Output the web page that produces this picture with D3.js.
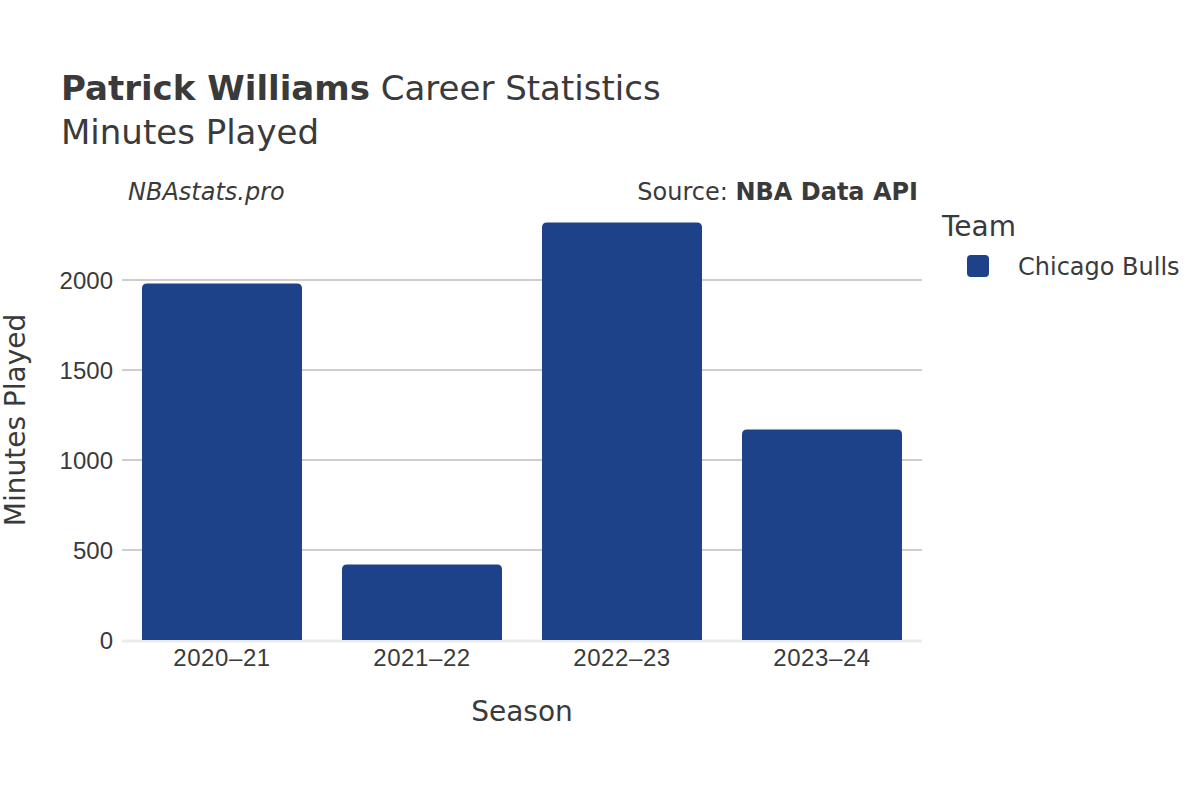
<!DOCTYPE html>
<html><head><meta charset="utf-8">
<script src="https://cdn.jsdelivr.net/npm/d3@7"></script>
<style>body{margin:0;background:#fff}svg{font-family:"DejaVu Sans",sans-serif}</style>
</head><body><svg id="c" width="1200" height="800"></svg>
<script>
const seasons = ["2020–21","2021–22","2022–23","2023–24"];
const minutes = [1981, 420, 2320, 1170];
const yTicks = [0, 500, 1000, 1500, 2000];
const team = "Chicago Bulls";
const barColor = "#1d428a";
const txt = "#3a3a3a";

const svg = d3.select("#c");
const L = 122, R = 922, T = 210, B = 640;
const x = d3.scaleBand().domain(seasons).range([L, R]).paddingInner(0.2).paddingOuter(0.1);
const y = d3.scaleLinear().domain([0, 2000]).range([B, 280]);

// gridlines
svg.append("g").selectAll("line").data(yTicks.filter(d=>d>0)).join("line")
  .attr("x1", L).attr("x2", R).attr("y1", d=>y(d)).attr("y2", d=>y(d))
  .attr("stroke", "#bdbdbd").attr("stroke-width", 1.5);
// zero line
svg.append("line").attr("x1", L).attr("x2", R).attr("y1", y(0)+1).attr("y2", y(0)+1)
  .attr("stroke", "#ebebeb").attr("stroke-width", 3);

// bars with rounded top
const r = 5;
svg.append("g").selectAll("path").data(seasons).join("path")
  .attr("fill", barColor)
  .attr("d", (d,i)=>{
    const x0 = x(d), w = x.bandwidth(), y0 = y(minutes[i]), y1 = y(0);
    return `M${x0},${y1}V${y0+r}Q${x0},${y0} ${x0+r},${y0}H${x0+w-r}Q${x0+w},${y0} ${x0+w},${y0+r}V${y1}Z`;
  });

// axes
const yAxis = d3.axisLeft(y).tickValues(yTicks).tickSize(0).tickPadding(0).tickFormat(d3.format("d"));
const gy = svg.append("g").attr("transform", `translate(${L-9},0)`).call(yAxis);
gy.select(".domain").remove();
gy.selectAll("text").attr("fill", txt).style("font-size", "24px").attr("dy", "0.36em");

const xAxis = d3.axisBottom(x).tickSize(0).tickPadding(0);
const gx = svg.append("g").attr("transform", `translate(0,${B+9})`).call(xAxis);
gx.select(".domain").remove();
gx.selectAll("text").attr("fill", txt).style("font-size", "24px").attr("dy", "0.71em").attr("letter-spacing", "0.6px");

// axis titles
svg.append("text").attr("x", (L+R)/2).attr("y", 721).attr("text-anchor", "middle")
  .attr("fill", txt).style("font-size", "28px").text("Season");
svg.append("text").attr("transform", `translate(25,420) rotate(-90)`).attr("text-anchor", "middle")
  .attr("fill", txt).style("font-size", "28px").text("Minutes Played");

// title
const t = svg.append("text").attr("x", 61).attr("y", 100).attr("fill", txt).style("font-size", "34px");
t.append("tspan").attr("font-weight", "bold").text("Patrick Williams");
t.append("tspan").text(" Career Statistics");
svg.append("text").attr("x", 61).attr("y", 144).attr("fill", txt).style("font-size", "34px").text("Minutes Played");

// annotations
svg.append("text").attr("x", 128).attr("y", 200).attr("fill", txt).style("font-size", "24px")
  .attr("font-style", "italic").text("NBAstats.pro");
const s = svg.append("text").attr("x", 918).attr("y", 200).attr("text-anchor", "end").attr("fill", txt).style("font-size", "24px");
s.append("tspan").text("Source: ");
s.append("tspan").attr("font-weight", "bold").text("NBA Data API");

// legend
svg.append("text").attr("x", 942).attr("y", 236).attr("fill", txt).style("font-size", "28px").text("Team");
svg.append("rect").attr("x", 967).attr("y", 255).attr("width", 22).attr("height", 22).attr("rx", 4)
  .attr("fill", barColor);
svg.append("text").attr("x", 1018).attr("y", 275).attr("fill", txt).style("font-size", "24px").text(team);
</script></body></html>
